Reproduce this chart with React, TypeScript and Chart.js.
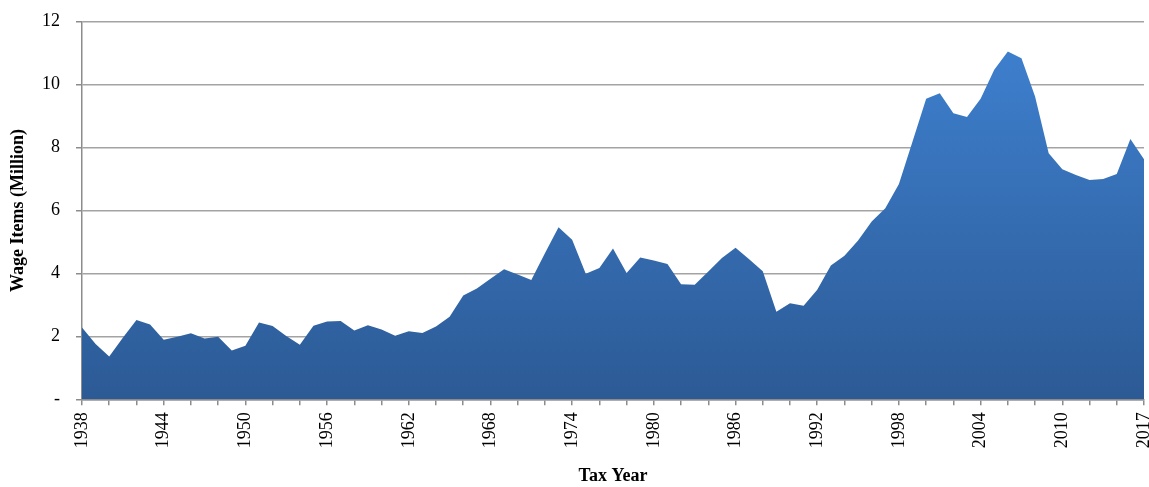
import React, { useEffect, useRef } from "react";
import { Chart, registerables } from "chart.js";

Chart.register(...registerables);

const years: string[] = [
  "1938", "1939", "1940", "1941", "1942", "1943", "1944", "1945", "1946", "1947",
  "1948", "1949", "1950", "1951", "1952", "1953", "1954", "1955", "1956", "1957",
  "1958", "1959", "1960", "1961", "1962", "1963", "1964", "1965", "1966", "1967",
  "1968", "1969", "1970", "1971", "1972", "1973", "1974", "1975", "1976", "1977",
  "1978", "1979", "1980", "1981", "1982", "1983", "1984", "1985", "1986", "1987",
  "1988", "1989", "1990", "1991", "1992", "1993", "1994", "1995", "1996", "1997",
  "1998", "1999", "2000", "2001", "2002", "2003", "2004", "2005", "2006", "2007",
  "2008", "2009", "2010", "2011", "2012", "2013", "2014", "2015", "2017",
];

const wageItems: number[] = [
  2.28, 1.76, 1.36, 1.96, 2.52, 2.38, 1.89, 1.99, 2.10, 1.93,
  1.99, 1.55, 1.70, 2.44, 2.33, 2.01, 1.73, 2.34, 2.47, 2.49,
  2.19, 2.35, 2.22, 2.02, 2.16, 2.11, 2.31, 2.62, 3.30, 3.52,
  3.83, 4.13, 3.97, 3.79, 4.64, 5.47, 5.07, 3.99, 4.17, 4.79,
  4.01, 4.51, 4.41, 4.30, 3.66, 3.64, 4.06, 4.49, 4.82, 4.45,
  4.07, 2.78, 3.05, 2.97, 3.48, 4.25, 4.56, 5.05, 5.65, 6.07,
  6.84, 8.19, 9.55, 9.73, 9.09, 8.97, 9.55, 10.47, 11.05, 10.84,
  9.62, 7.82, 7.31, 7.13, 6.97, 7.00, 7.16, 8.27, 7.63,
];

const yTicks: number[] = [0, 2, 4, 6, 8, 10, 12];

const FONT = "'Liberation Serif', 'Times New Roman', serif";

export default function App() {
  const canvasRef = useRef<HTMLCanvasElement | null>(null);

  useEffect(() => {
    const canvas = canvasRef.current;
    if (!canvas) return;
    const lastIndex = years.length - 1;

    const chart = new Chart(canvas, {
      type: "line",
      data: {
        labels: years,
        datasets: [
          {
            label: "Wage Items (Million)",
            data: wageItems,
            fill: "origin",
            borderWidth: 0,
            borderColor: "rgba(0,0,0,0)",
            pointRadius: 0,
            tension: 0,
            backgroundColor: (ctx: any) => {
              const { chart } = ctx;
              const area = chart.chartArea;
              if (!area) return "#3366a8";
              const g = chart.ctx.createLinearGradient(0, area.bottom, 0, area.top);
              g.addColorStop(0, "#2c5a95");
              g.addColorStop(1, "#3f82d2");
              return g;
            },
          },
        ],
      },
      options: {
        animation: false,
        responsive: false,
        events: [],
        layout: { padding: { top: 21.7, right: 5, left: 0, bottom: 0 } },
        plugins: {
          legend: { display: false },
          tooltip: { enabled: false },
        },
        scales: {
          x: {
            type: "category",
            offset: false,
            grid: {
              display: true,
              drawOnChartArea: false,
              drawTicks: true,
              tickLength: 6,
              lineWidth: 1.5,
              color: (ctx: any) => (ctx.index % 2 === 0 ? "#8c8c8c" : "rgba(0,0,0,0)"),
            },
            border: { display: true, color: "#8c8c8c", width: 1.5 },
            ticks: {
              autoSkip: false,
              maxRotation: 90,
              minRotation: 90,
              padding: 7,
              color: "#000",
              font: { family: FONT, size: 18 },
              callback: (_v: any, i: number) =>
                i % 6 === 0 || i === lastIndex ? years[i] : "",
            },
            title: {
              display: true,
              text: "Tax Year",
              color: "#000",
              font: { family: FONT, size: 18, weight: "bold" },
              padding: { top: 0, bottom: 0 },
            },
            afterFit: (scale: any) => {
              scale.height = 87.7;
              scale.paddingLeft = 0;
              scale.paddingRight = 0;
            },
          },
          y: {
            min: 0,
            max: 12,
            afterBuildTicks: (scale: any) => {
              scale.ticks = yTicks.map((v) => ({ value: v }));
            },
            grid: {
              color: "#a3a3a3",
              lineWidth: 1.5,
              drawTicks: true,
              tickLength: 6,
              tickColor: "#8c8c8c",
            },
            border: { display: true, color: "#8c8c8c", width: 1.5 },
            ticks: {
              padding: 16,
              color: "#000",
              font: { family: FONT, size: 18 },
              callback: (v: any) => (Number(v) === 0 ? "-" : String(v)),
            },
            title: {
              display: true,
              text: "Wage Items (Million)",
              color: "#000",
              font: { family: FONT, size: 18, weight: "bold" },
              padding: { top: 8, bottom: 0 },
            },
            afterFit: (scale: any) => {
              scale.width = 82;
              scale.paddingTop = 0;
              scale.paddingBottom = 0;
            },
          },
        },
      },
    } as any);

    return () => {
      chart.destroy();
    };
  }, []);

  return (
    <div style={{ position: "absolute", left: 0, top: 0, width: 1149, height: 487, background: "#fff" }}>
      <canvas ref={canvasRef} width={1149} height={487} />
    </div>
  );
}
